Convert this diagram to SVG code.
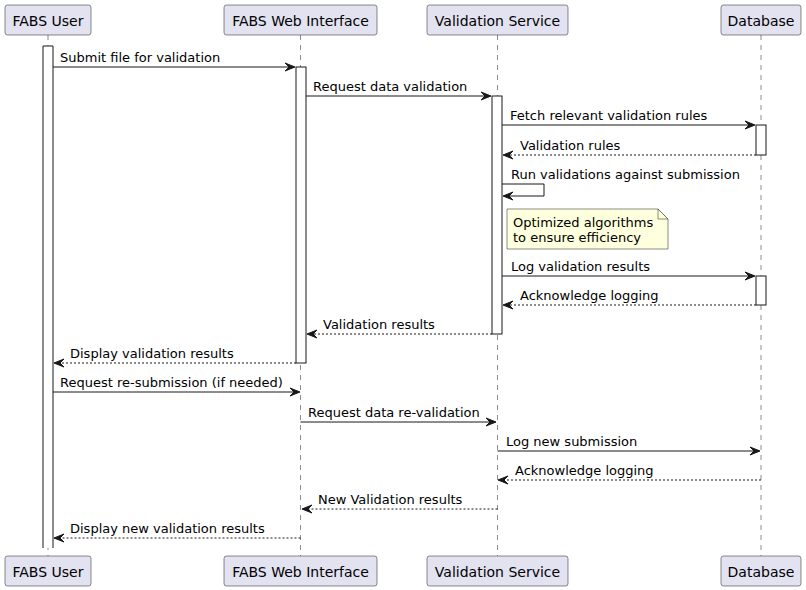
<svg xmlns="http://www.w3.org/2000/svg" width="806" height="590" viewBox="0 0 806 590">
<style>
.bg{fill:#FFFFFF}
.part rect{fill:#E2E2F0;stroke:#181818;stroke-width:0.5}
.part text{font-family:"DejaVu Sans",sans-serif;font-size:14px;fill:#000000;text-anchor:middle}
.life{stroke:#181818;stroke-width:0.5;stroke-dasharray:5,5;fill:none}
.act{fill:#FFFFFF;stroke:#181818;stroke-width:1}
.msg{stroke:#181818;stroke-width:1;fill:none}
.ret{stroke:#181818;stroke-width:1;fill:none;stroke-dasharray:2,2}
.head{fill:#181818;stroke:#181818;stroke-width:1}
.lbl{font-family:"DejaVu Sans",sans-serif;font-size:13px;fill:#000000}
.note{fill:#FEFFDD;stroke:#181818;stroke-width:0.5}
</style>
<rect class="bg" x="0" y="0" width="806" height="590"/>

<g id="lifelines">
<line class="life" x1="48" y1="35" x2="48" y2="556"/>
<line class="life" x1="300.5" y1="35" x2="300.5" y2="556"/>
<line class="life" x1="497.5" y1="35" x2="497.5" y2="556"/>
<line class="life" x1="761" y1="35" x2="761" y2="556"/>
</g>

<g id="participant-user" class="part">
<rect x="5" y="5" width="86" height="30" rx="2.5"/>
<text x="48" y="26">FABS User</text>
<rect x="5" y="556" width="86" height="30" rx="2.5"/>
<text x="48" y="577">FABS User</text>
</g>
<g id="participant-web" class="part">
<rect x="224" y="5" width="153" height="30" rx="2.5"/>
<text x="300.5" y="26">FABS Web Interface</text>
<rect x="224" y="556" width="153" height="30" rx="2.5"/>
<text x="300.5" y="577">FABS Web Interface</text>
</g>
<g id="participant-validation" class="part">
<rect x="427" y="5" width="141" height="30" rx="2.5"/>
<text x="497.5" y="26">Validation Service</text>
<rect x="427" y="556" width="141" height="30" rx="2.5"/>
<text x="497.5" y="577">Validation Service</text>
</g>
<g id="participant-db" class="part">
<rect x="721" y="5" width="80" height="30" rx="2.5"/>
<text x="761" y="26">Database</text>
<rect x="721" y="556" width="80" height="30" rx="2.5"/>
<text x="761" y="577">Database</text>
</g>

<g id="activations">
<path class="act" d="M43,548 L43,46 L53,46 L53,548"/>
<rect class="act" x="296" y="67" width="10" height="296"/>
<rect class="act" x="492" y="96" width="10" height="238"/>
<rect class="act" x="756" y="125" width="10" height="30"/>
<rect class="act" x="756" y="276" width="10" height="29"/>
</g>

<g id="note">
<path class="note" d="M507,209 L507,249 L668,249 L668,219 L658,209 Z"/>
<path class="note" d="M658,209 L658,219 L668,219 Z"/>
<text class="lbl" x="513" y="227">Optimized algorithms</text>
<text class="lbl" x="513" y="242">to ensure efficiency</text>
</g>

<g id="connectors">
<!-- 1 -->
<line class="msg" x1="53" y1="67" x2="294" y2="67"/>
<polygon class="head" points="285,63 295,67 285,71 289,67"/>
<text class="lbl" x="60" y="62">Submit file for validation</text>
<!-- 2 -->
<line class="msg" x1="306" y1="96" x2="490" y2="96"/>
<polygon class="head" points="481,92 491,96 481,100 485,96"/>
<text class="lbl" x="313" y="91">Request data validation</text>
<!-- 3 -->
<line class="msg" x1="502" y1="125" x2="754" y2="125"/>
<polygon class="head" points="745,121 755,125 745,129 749,125"/>
<text class="lbl" x="510" y="120">Fetch relevant validation rules</text>
<!-- 4 -->
<line class="ret" x1="756" y1="155" x2="504" y2="155"/>
<polygon class="head" points="513,151 503,155 513,159 509,155"/>
<text class="lbl" x="520" y="150">Validation rules</text>
<!-- 5 self -->
<polyline class="msg" points="502,184 544,184 544,196 504,196"/>
<polygon class="head" points="513,192 503,196 513,200 509,196"/>
<text class="lbl" x="511" y="179">Run validations against submission</text>
<!-- 6 -->
<line class="msg" x1="502" y1="276" x2="754" y2="276"/>
<polygon class="head" points="745,272 755,276 745,280 749,276"/>
<text class="lbl" x="511" y="271">Log validation results</text>
<!-- 7 -->
<line class="ret" x1="756" y1="305" x2="504" y2="305"/>
<polygon class="head" points="513,301 503,305 513,309 509,305"/>
<text class="lbl" x="520" y="300">Acknowledge logging</text>
<!-- 8 -->
<line class="ret" x1="492" y1="334" x2="308" y2="334"/>
<polygon class="head" points="317,330 307,334 317,338 313,334"/>
<text class="lbl" x="323" y="329">Validation results</text>
<!-- 9 -->
<line class="ret" x1="296" y1="363" x2="55" y2="363"/>
<polygon class="head" points="64,359 54,363 64,367 60,363"/>
<text class="lbl" x="70" y="358">Display validation results</text>
<!-- 10 -->
<line class="msg" x1="53" y1="392" x2="299" y2="392"/>
<polygon class="head" points="290,388 300,392 290,396 294,392"/>
<text class="lbl" x="60" y="387">Request re-submission (if needed)</text>
<!-- 11 -->
<line class="msg" x1="300.5" y1="422" x2="495" y2="422"/>
<polygon class="head" points="486,418 496,422 486,426 490,422"/>
<text class="lbl" x="308" y="417">Request data re-validation</text>
<!-- 12 -->
<line class="msg" x1="497.5" y1="451" x2="759" y2="451"/>
<polygon class="head" points="750,447 760,451 750,455 754,451"/>
<text class="lbl" x="506" y="446">Log new submission</text>
<!-- 13 -->
<line class="ret" x1="761" y1="480" x2="499" y2="480"/>
<polygon class="head" points="508,476 498,480 508,484 504,480"/>
<text class="lbl" x="515" y="475">Acknowledge logging</text>
<!-- 14 -->
<line class="ret" x1="497.5" y1="509" x2="303" y2="509"/>
<polygon class="head" points="312,505 302,509 312,513 308,509"/>
<text class="lbl" x="318" y="504">New Validation results</text>
<!-- 15 -->
<line class="ret" x1="300.5" y1="538" x2="55" y2="538"/>
<polygon class="head" points="64,534 54,538 64,542 60,538"/>
<text class="lbl" x="70" y="533">Display new validation results</text>
</g>
</svg>
